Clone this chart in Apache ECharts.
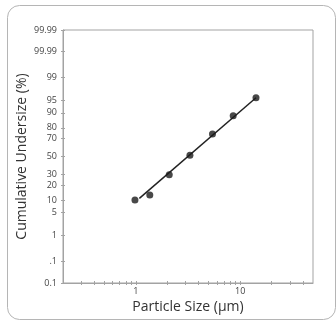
<!DOCTYPE html>
<html>
<head>
<meta charset="utf-8">
<script src="https://cdn.jsdelivr.net/npm/echarts@6/dist/echarts.min.js"></script>
<style>html,body{margin:0;padding:0;background:#fff;}#c{width:336px;height:321px;}</style>
</head>
<body>
<div id="c"></div>
<script>
// Particle size (µm) and cumulative undersize (%)
var sizes = [0.98, 1.36, 2.09, 3.30, 5.43, 8.58, 14.2];
var undersize = [10.0, 12.9, 29.6, 51.4, 74.6, 88.5, 95.8];
// fitted line endpoints
var fitSizes = [1.08, 14.2];
var fitUndersize = [10.9, 95.8];
// probability axis ticks (%) and their labels as shown
var yTickPercents = [0.01, 0.1, 1, 5, 10, 20, 30, 50, 70, 80, 90, 95, 99, 99.9, 99.99];
var yTickLabels = ["0.1", ".1", "1", "5", "10", "20", "30", "50", "70", "80", "90", "95", "99", "99.99", "99.99"];
// log axis ticks
var xLabelValues = [1, 10];
var xTickValues = [0.3, 0.4, 0.5, 0.6, 0.7, 0.8, 0.9, 1, 2, 3, 4, 5, 6, 7, 8, 9, 10, 20, 30, 40];
var xMin = 0.2, xMax = 50;

function probit(pct) {
  var p = pct / 100;
  var a = [-3.969683028665376e+01, 2.209460984245205e+02, -2.759285104469687e+02, 1.383577518672690e+02, -3.066479806614716e+01, 2.506628277459239e+00];
  var b = [-5.447609879822406e+01, 1.615858368580409e+02, -1.556989798598866e+02, 6.680131188771972e+01, -1.328068155288572e+01];
  var c = [-7.784894002430293e-03, -3.223964580411365e-01, -2.400758277161838e+00, -2.549732539343734e+00, 4.374664141464968e+00, 2.938163982698783e+00];
  var d = [7.784695709041462e-03, 3.224671290700398e-01, 2.445134137142996e+00, 3.754408661907416e+00];
  var pl = 0.02425, q, r;
  if (p < pl) {
    q = Math.sqrt(-2 * Math.log(p));
    return (((((c[0]*q+c[1])*q+c[2])*q+c[3])*q+c[4])*q+c[5]) / ((((d[0]*q+d[1])*q+d[2])*q+d[3])*q+1);
  } else if (p <= 1 - pl) {
    q = p - 0.5; r = q*q;
    return (((((a[0]*r+a[1])*r+a[2])*r+a[3])*r+a[4])*r+a[5])*q / (((((b[0]*r+b[1])*r+b[2])*r+b[3])*r+b[4])*r+1);
  } else {
    q = Math.sqrt(-2 * Math.log(1 - p));
    return -(((((c[0]*q+c[1])*q+c[2])*q+c[3])*q+c[4])*q+c[5]) / ((((d[0]*q+d[1])*q+d[2])*q+d[3])*q+1);
  }
}

var yTickZ = yTickPercents.map(probit);
var yMin = yTickZ[0], yMax = yTickZ[yTickZ.length - 1];
function yLabel(v) {
  var best = 0, bd = Infinity;
  for (var i = 0; i < yTickZ.length; i++) { var dd = Math.abs(yTickZ[i] - v); if (dd < bd) { bd = dd; best = i; } }
  return yTickLabels[best];
}

var pts = sizes.map(function (s, i) { return [s, probit(undersize[i])]; });
var fit = fitSizes.map(function (s, i) { return [s, probit(fitUndersize[i])]; });

var font = "'Open Sans', sans-serif";
var axisGray = '#a3a3a3';
var chart = echarts.init(document.getElementById('c'), null, { renderer: 'canvas' });
chart.setOption({
  animation: false,
  backgroundColor: '#fff',
  graphic: [{
    type: 'rect', silent: true, z: -10,
    shape: { x: 7.5, y: 5.5, width: 328, height: 314, r: 12 },
    style: { fill: 'none', stroke: '#b5b5b5', lineWidth: 1 }
  }],
  grid: { left: 63, top: 30, right: 23, bottom: 38, show: true, borderColor: axisGray, borderWidth: 1, backgroundColor: 'transparent' },
  xAxis: [{
    type: 'log', logBase: 10, min: xMin, max: xMax, position: 'bottom',
    name: 'Particle Size (µm)', nameLocation: 'middle', nameGap: 17, nameMoveOverlap: false,
    nameTextStyle: { fontFamily: font, fontSize: 14, color: '#333' },
    axisLine: { show: true, onZero: false, lineStyle: { color: axisGray } },
    axisTick: { show: true, inside: false, length: 2, customValues: xTickValues, lineStyle: { color: axisGray } },
    axisLabel: { show: true, customValues: xLabelValues, margin: 4, fontFamily: font, fontSize: 9, color: '#444',
      formatter: function (v) { return String(Math.round(v)); } },
    splitLine: { show: false }, minorTick: { show: false }
  }, {
    type: 'log', logBase: 10, min: xMin, max: xMax, position: 'bottom', offset: 0,
    axisLine: { show: false, onZero: false },
    axisTick: { show: true, inside: true, length: 2, customValues: xTickValues, lineStyle: { color: axisGray } },
    axisLabel: { show: false }, splitLine: { show: false }
  }],
  yAxis: [{
    type: 'value', min: yMin, max: yMax, position: 'left',
    name: 'Cumulative Undersize (%)', nameLocation: 'middle', nameGap: 34, nameMoveOverlap: false,
    nameTextStyle: { fontFamily: font, fontSize: 14, color: '#333' },
    axisLine: { show: true, onZero: false, lineStyle: { color: axisGray } },
    axisTick: { show: true, inside: false, length: 2, customValues: yTickZ, lineStyle: { color: axisGray } },
    axisLabel: { show: true, customValues: yTickZ, margin: 6, fontFamily: font, fontSize: 9, color: '#444', formatter: yLabel },
    splitLine: { show: false }
  }, {
    type: 'value', min: yMin, max: yMax, position: 'left', offset: 0,
    axisLine: { show: false, onZero: false },
    axisTick: { show: true, inside: true, length: 2, customValues: yTickZ, lineStyle: { color: axisGray } },
    axisLabel: { show: false }, splitLine: { show: false }
  }],
  series: [{
    type: 'line', data: fit, showSymbol: false, symbol: 'none',
    lineStyle: { color: '#222', width: 1.5 }, z: 2
  }, {
    type: 'scatter', data: pts, symbol: 'circle', symbolSize: 7,
    itemStyle: { color: '#1a1a1a' }, z: 3
  }]
});
</script>
</body>
</html>
